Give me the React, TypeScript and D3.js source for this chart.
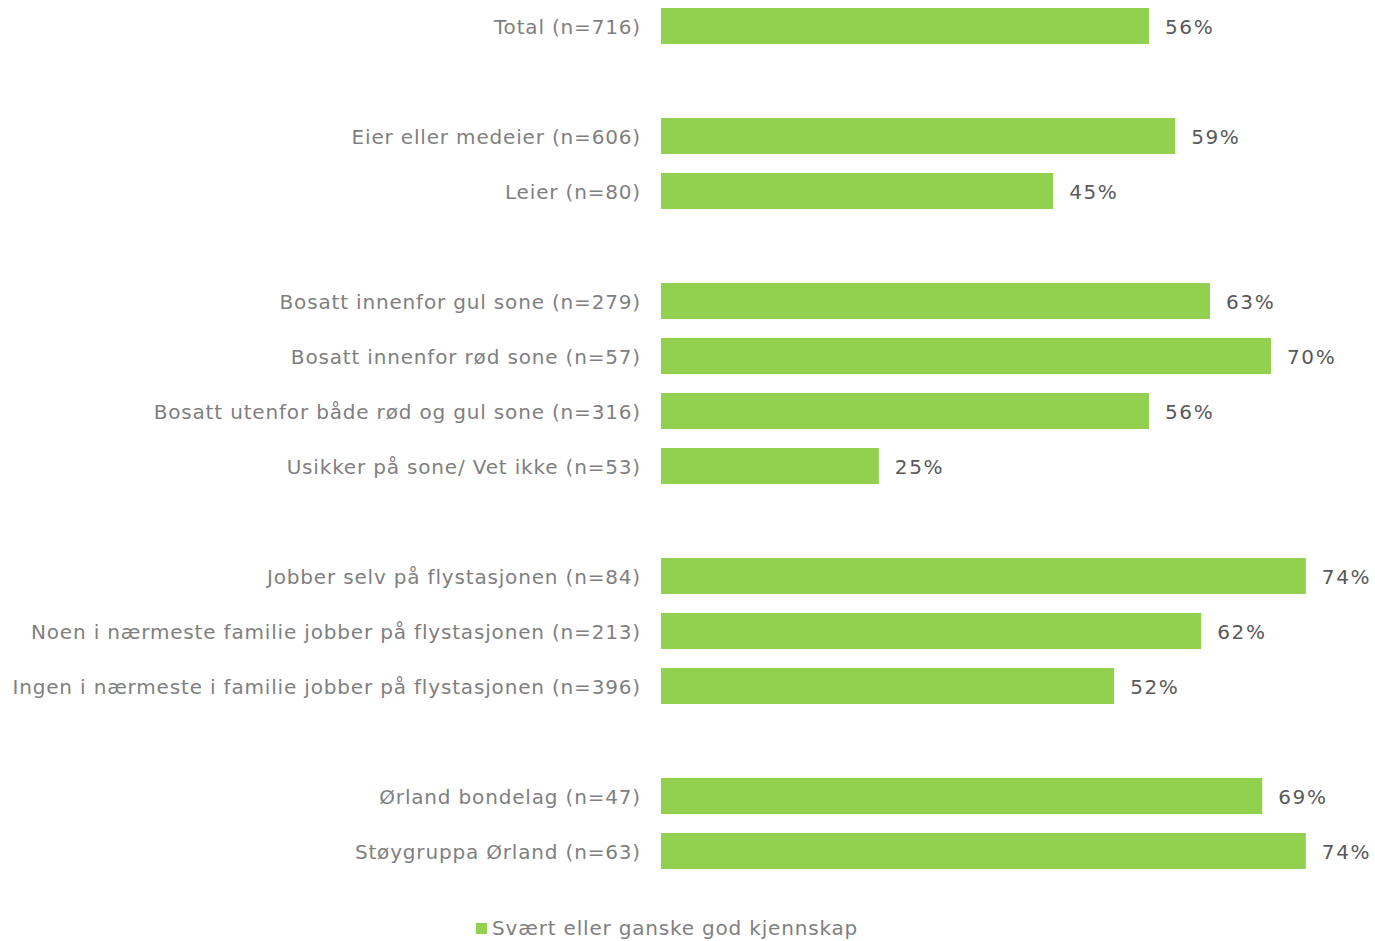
import React from "react";
import * as d3 from "d3";

const categories = [
  "Total (n=716)",
  "",
  "Eier eller medeier (n=606)",
  "Leier (n=80)",
  "",
  "Bosatt innenfor gul sone (n=279)",
  "Bosatt innenfor rød sone (n=57)",
  "Bosatt utenfor både rød og gul sone (n=316)",
  "Usikker på sone/ Vet ikke (n=53)",
  "",
  "Jobber selv på flystasjonen (n=84)",
  "Noen i nærmeste familie jobber på flystasjonen (n=213)",
  "Ingen i nærmeste i familie jobber på flystasjonen (n=396)",
  "",
  "Ørland bondelag (n=47)",
  "Støygruppa Ørland (n=63)",
];
const values: (number | null)[] = [56, null, 59, 45, null, 63, 70, 56, 25, null, 74, 62, 52, null, 69, 74];
const seriesName = "Svært eller ganske god kjennskap";

const W = 1375;
const H = 941;
const FONT = "Verdana, 'DejaVu Sans', sans-serif";

export default function App() {
  const idx = categories.map((_, i) => String(i));
  const y = d3.scaleBand<string>().domain(idx).range([-1.5, 878.5]).paddingInner(0.345).paddingOuter(0.1725);
  const x = d3.scaleLinear().domain([0, 100]).range([661, 661 + 871.4]);
  const bw = y.bandwidth();
  return (
    <svg width={W} height={H} style={{ position: "absolute", left: 0, top: 0 }} fontFamily={FONT}>
      {categories.map((c, i) => {
        const v = values[i];
        const yc = (y(String(i)) as number) + bw / 2 + 1;
        return (
          <g key={i}>
            {c && (
              <text x={641} y={yc} textAnchor="end" dominantBaseline="central" fontSize={20} letterSpacing={0.83} fill="#7f7f7f">
                {c}
              </text>
            )}
            {v != null && (
              <>
                <rect x={x(0)} y={y(String(i))} width={x(v) - x(0)} height={bw} fill="#92d050" />
                <text x={x(v) + 16} y={yc} dominantBaseline="central" fontSize={20} letterSpacing={1.6} fill="#595959">
                  {v}%
                </text>
              </>
            )}
          </g>
        );
      })}
      <rect x={476} y={923} width={11} height={11} fill="#92d050" />
      <text x={492} y={928} dominantBaseline="central" fontSize={20} letterSpacing={0.82} fill="#7f7f7f">
        {seriesName}
      </text>
    </svg>
  );
}
